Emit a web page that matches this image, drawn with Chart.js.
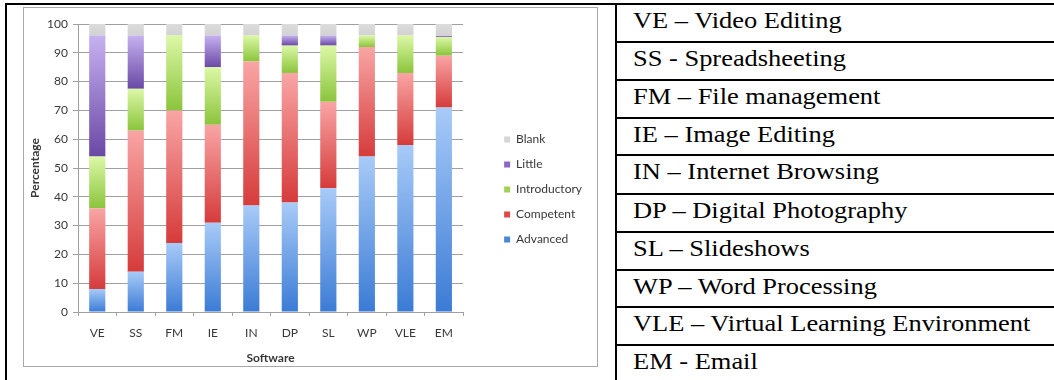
<!DOCTYPE html>
<html>
<head>
<meta charset="utf-8">
<script src="https://cdn.jsdelivr.net/npm/chart.js@4/dist/chart.umd.min.js"></script>
<style>
  html, body { margin: 0; padding: 0; background: #fff; }
  body { width: 1054px; height: 380px; position: relative; overflow: hidden; }
  .rule { position: absolute; background: #000; }
  .chart-box { position: absolute; left: 23px; top: 7px; width: 575px; height: 360px;
               box-sizing: border-box; border: 1px solid #a9a9a9; background: #fff; }
  #chartWrap { position: absolute; left: 24px; top: 8px; width: 572px; height: 357px; }
  .key { position: absolute; left: 633px; font-family: "Liberation Serif", "Times New Roman", serif;
         font-size: 22.6px; line-height: 26px; color: #000; white-space: nowrap;
         transform: scaleX(1.17); transform-origin: 0 0; }
</style>
</head>
<body>
<div class="chart-box"></div>
<div id="chartWrap"><canvas id="skills" width="572" height="357"></canvas></div>
<div id="table"></div>
<script>
// Software categories and their full names
const categories = ['VE', 'SS', 'FM', 'IE', 'IN', 'DP', 'SL', 'WP', 'VLE', 'EM'];
const fullNames = [
  'VE \u2013 Video Editing',
  'SS - Spreadsheeting',
  'FM \u2013 File management',
  'IE \u2013 Image Editing',
  'IN \u2013 Internet Browsing',
  'DP \u2013 Digital Photography',
  'SL \u2013 Slideshows',
  'WP \u2013 Word Processing',
  'VLE \u2013 Virtual Learning Environment',
  'EM - Email'
];

// Percentage of respondents at each skill level (stacked bottom to top)
const advanced     = [8, 14, 24, 31, 37, 38, 43, 54, 58, 71];
const competent    = [28, 49, 46, 34, 50, 45, 30, 38, 25, 18];
const introductory = [18, 14.5, 26, 20, 9, 9.5, 19.5, 4, 13, 6.5];
const little       = [42, 18.5, 0, 11, 0, 3.5, 3.5, 0, 0, 0.5];
const blank        = [4, 4, 4, 4, 4, 4, 4, 4, 4, 4];

const seriesNames = ['Advanced', 'Competent', 'Introductory', 'Little', 'Blank'];
const seriesValues = [advanced, competent, introductory, little, blank];
const yTicks = [0, 10, 20, 30, 40, 50, 60, 70, 80, 90, 100];

// Shading for each level: light at the top of a segment, deeper at its base
const shadeTop    = ['#a8cbf8', '#f9a5a5', '#dcf8a6', '#c6b2f0', '#dcdcdc'];
const shadeBottom = ['#3b7bd5', '#d63b3b', '#8bc43c', '#6a48a5', '#d2d2d2'];
const swatch      = ['#4a88dc', '#e04848', '#a2d255', '#8b68c6', '#d6d6d6'];

function segmentFill(s) {
  return (ctx) => {
    const chart = ctx.chart;
    const y = chart.scales && chart.scales.y;
    if (ctx.type !== 'data' || !y) return swatch[s];
    const j = ctx.dataIndex;
    let start = 0;
    for (let k = 0; k < s; k++) start += seriesValues[k][j];
    const end = start + seriesValues[s][j];
    const pTop = y.getPixelForValue(end);
    const pBot = y.getPixelForValue(start);
    if (!isFinite(pTop) || !isFinite(pBot) || Math.abs(pBot - pTop) < 0.5) return shadeTop[s];
    const g = chart.ctx.createLinearGradient(0, pTop, 0, pBot);
    g.addColorStop(0, shadeTop[s]);
    g.addColorStop(1, shadeBottom[s]);
    return g;
  };
}

// Keeps the legend a fixed distance to the right of the plot
const legendPlacement = {
  id: 'legendPlacement',
  afterLayout(chart, args, opts) {
    const lg = chart.legend;
    if (!lg) return;
    const dx = chart.chartArea.right + opts.gap - lg.options.labels.padding - lg.left;
    lg.left += dx; lg.right += dx;
    lg.top += opts.dy; lg.bottom += opts.dy;
  }
};

const uiFont = 'Lato, "Open Sans", sans-serif';
const textColor = '#383838';
const lineColor = '#a0a0a0';

function drawChart() {
  new Chart(document.getElementById('skills'), {
    type: 'bar',
    data: {
      labels: categories,
      datasets: seriesNames.map((name, s) => ({
        label: name,
        data: seriesValues[s],
        backgroundColor: segmentFill(s),
        borderWidth: 0,
        categoryPercentage: 1,
        barPercentage: 0.42
      }))
    },
    options: {
      responsive: false,
      devicePixelRatio: 1,
      animation: false,
      layout: { padding: { top: 16, right: 32, bottom: 0, left: 0 } },
      plugins: {
        legendPlacement: { gap: 41, dy: -5 },
        tooltip: { enabled: false },
        legend: {
          position: 'right',
          labels: {
            font: { family: uiFont, size: 12 },
            color: textColor,
            boxWidth: 6,
            boxHeight: 6,
            padding: 13,
            generateLabels: (chart) => chart.data.datasets.map((ds, i) => ({
              text: ds.label,
              fillStyle: swatch[i],
              strokeStyle: swatch[i],
              lineWidth: 0,
              hidden: false,
              datasetIndex: i,
              fontColor: textColor
            })).reverse()
          }
        }
      },
      scales: {
        x: {
          stacked: true,
          afterFit: (scale) => { scale.height = 53; },
          grid: { offset: true, drawOnChartArea: false, drawTicks: true, tickLength: 4, color: lineColor },
          border: { display: true, color: lineColor },
          ticks: { font: { family: uiFont, size: 12 }, color: textColor, padding: 10 },
          title: { display: true, text: 'Software', font: { family: uiFont, size: 12, weight: 'bold' },
                   color: textColor, padding: { top: 0, bottom: 0 } }
        },
        y: {
          stacked: true,
          min: 0,
          max: 100,
          afterFit: (scale) => { scale.width = 54; },
          afterBuildTicks: (scale) => { scale.ticks = yTicks.map(v => ({ value: v })); },
          grid: { color: lineColor, tickLength: 5, drawTicks: true },
          border: { display: true, color: lineColor },
          ticks: { font: { family: uiFont, size: 12 }, color: textColor, padding: 5 },
          title: { display: true, text: 'Percentage', font: { family: uiFont, size: 12, weight: 'bold' },
                   color: textColor, padding: { top: 4, bottom: 4 } }
        }
      }
    },
    plugins: [legendPlacement]
  });
}

// Table frame and the key of abbreviations
function drawTable() {
  const host = document.getElementById('table');
  const rule = (l, t, w, h) => {
    const d = document.createElement('div');
    d.className = 'rule';
    Object.assign(d.style, { left: l + 'px', top: t + 'px', width: w + 'px', height: h + 'px' });
    host.appendChild(d);
  };
  rule(5, 3, 1049, 2);     // top edge
  rule(5, 3, 2, 377);      // left edge
  rule(615, 3, 2, 377);    // column divider
  const rowLines = [41, 79, 117, 154, 193, 231, 269, 306, 344];
  rowLines.forEach(t => rule(615, t, 439, 2));
  const rowTops = [4].concat(rowLines.map(t => t + 1));
  fullNames.forEach((txt, i) => {
    const d = document.createElement('div');
    d.className = 'key';
    d.style.top = (rowTops[i] + 3.5) + 'px';
    d.textContent = txt;
    host.appendChild(d);
  });
}

drawTable();
if (document.fonts && document.fonts.load) {
  Promise.all([document.fonts.load('12px Lato'), document.fonts.load('bold 12px Lato')])
    .then(drawChart, drawChart);
} else {
  drawChart();
}
</script>
</body>
</html>
